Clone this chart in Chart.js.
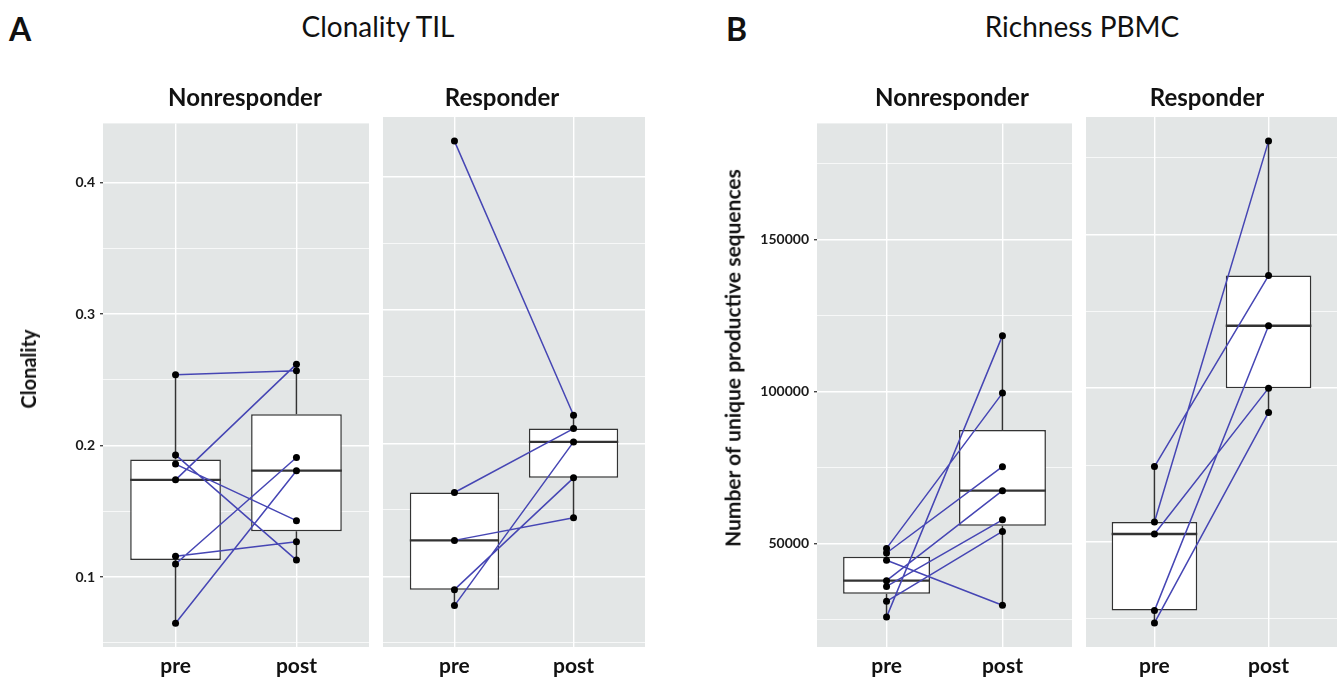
<!DOCTYPE html>
<html><head><meta charset="utf-8">
<script src="https://cdn.jsdelivr.net/npm/chart.js@4.4.1/dist/chart.umd.min.js"></script>
<style>
html,body{margin:0;padding:0;background:#fff;}
#wrap{position:relative;width:1342px;height:685px;overflow:hidden;font-family:Lato,"Open Sans",sans-serif;}
canvas{position:absolute;}
.t{position:absolute;white-space:nowrap;color:#111;line-height:1;}
.c{transform:translateX(-50%);}
.big{font-size:32px;font-weight:700;}
.main{font-size:28px;font-weight:400;}
.strip{font-size:24px;font-weight:700;}
.ytitle{font-weight:700;transform:translate(-50%,-50%) rotate(-90deg);}
</style></head><body>
<div id="wrap">
  <canvas id="aNon" width="373" height="575" style="left:0px;top:110px;"></canvas>
  <canvas id="aRes" width="270" height="575" style="left:379px;top:110px;"></canvas>
  <canvas id="bNon" width="386" height="575" style="left:690px;top:110px;"></canvas>
  <canvas id="bRes" width="259" height="575" style="left:1082px;top:110px;"></canvas>
  <div class="t big" style="left:9px;top:13px;">A</div>
  <div class="t main c" style="left:378px;top:12px;">Clonality TIL</div>
  <div class="t big" style="left:726px;top:13px;">B</div>
  <div class="t main c" style="left:1082px;top:12px;">Richness PBMC</div>
  <div class="t strip c" style="left:245px;top:85px;">Nonresponder</div>
  <div class="t strip c" style="left:502px;top:85px;">Responder</div>
  <div class="t strip c" style="left:952px;top:85px;">Nonresponder</div>
  <div class="t strip c" style="left:1207px;top:85px;">Responder</div>
  <div class="t ytitle" style="left:28px;top:369px;font-size:20px;">Clonality</div>
  <div class="t ytitle" style="left:732px;top:358px;font-size:21px;">Number of unique productive sequences</div>
</div>
<script>
// ---------- data ----------
const categories = ['pre', 'post'];

// Panel A: Clonality TIL (paired: pre[i] -> post[i])
const clonNonPre  = [0.254, 0.174, 0.193, 0.186, 0.116, 0.110, 0.065];
const clonNonPost = [0.257, 0.262, 0.113, 0.143, 0.127, 0.191, 0.181];
const clonResPre  = [0.427, 0.163, 0.127, 0.090, 0.078];
const clonResPost = [0.221, 0.211, 0.144, 0.174, 0.201];
const clonMajorTicks = [0.1, 0.2, 0.3, 0.4];
const clonTickLabels = ['0.1', '0.2', '0.3', '0.4'];
const clonMinorTicks = [0.05, 0.15, 0.25, 0.35];
const clonRange = [0.0469, 0.4451];

// Panel B: Richness PBMC (paired: pre[i] -> post[i])
const richNonPre  = [48300, 46800, 44400, 37700, 35800, 30900, 25700];
const richNonPost = [99400, 75200, 29600, 67300, 57700, 53900, 118300];
const richResPre  = [74500, 56500, 52600, 27700, 23700];
const richResPost = [136600, 180300, 100000, 120300, 92100];
const richMajorTicks = [50000, 100000, 150000];
const richTickLabels = ['50000', '100000', '150000'];
const richMinorTicks = [25000, 75000, 125000, 175000];
const richRange = [15870, 188130];

// ---------- styles ----------
const PANEL_BG = '#e3e6e6';
const BOX_W = 0.75;
const BOX_COLOR = '#333333';
const PAIR_COLOR = '#4646b4';
const FONT = 'Lato, "Open Sans", sans-serif';

function q7(s, p) {
  const h = (s.length - 1) * p, lo = Math.floor(h), hi = Math.ceil(h);
  return s[lo] + (s[hi] - s[lo]) * (h - lo);
}
function boxStats(arr) {
  const s = [...arr].sort((a, b) => a - b);
  const q1 = q7(s, 0.25), med = q7(s, 0.5), q3 = q7(s, 0.75), iqr = q3 - q1;
  const lo = Math.min(...s.filter(v => v >= q1 - 1.5 * iqr));
  const hi = Math.max(...s.filter(v => v <= q3 + 1.5 * iqr));
  return {q1, med, q3, lo, hi};
}

const bgPlugin = {
  id: 'panelBg',
  beforeDraw(chart) {
    const {ctx, chartArea: a} = chart;
    ctx.save();
    ctx.fillStyle = PANEL_BG;
    ctx.fillRect(a.left, a.top, a.right - a.left, a.bottom - a.top);
    ctx.restore();
  }
};

function makeFacet(id, pre, post, cfg) {
  const st = [boxStats(pre), boxStats(post)];
  const boxData = st.map((s, i) => ({x: i + 1, y: [s.q1, s.q3]}));
  const whisk = [];
  st.forEach((s, i) => {
    const x = i + 1;
    whisk.push({x, y: s.q3}, {x, y: s.hi}, {x, y: null}, {x, y: s.q1}, {x, y: s.lo}, {x, y: null});
  });
  const meds = [];
  st.forEach((s, i) => {
    const x = i + 1;
    meds.push({x: x - BOX_W / 2, y: s.med}, {x: x + BOX_W / 2, y: s.med}, {x: x + 0.5, y: null});
  });
  const pairs = [], pts = [];
  pre.forEach((v, i) => {
    pairs.push({x: 1, y: v}, {x: 2, y: post[i]}, {x: 1.5, y: null});
    pts.push({x: 1, y: v}, {x: 2, y: post[i]});
  });
  const major = cfg.major, minor = cfg.minor;
  const isMajor = v => major.some(m => Math.abs(m - v) < 1e-9);
  const labelOf = v => { const k = major.findIndex(m => Math.abs(m - v) < 1e-9); return k >= 0 ? cfg.labels[k] : ''; };

  new Chart(document.getElementById(id), {
    type: 'bar',
    data: {
      datasets: [
        {type: 'bar', data: boxData, backgroundColor: '#ffffff', borderColor: BOX_COLOR, borderWidth: 1.5,
         borderSkipped: false, barPercentage: BOX_W, categoryPercentage: 1, order: 10},
        {type: 'line', data: whisk, borderColor: BOX_COLOR, borderWidth: 1.5, pointRadius: 0, spanGaps: false, order: 8},
        {type: 'line', data: meds, borderColor: BOX_COLOR, borderWidth: 2.4, pointRadius: 0, spanGaps: false, order: 7, borderCapStyle: 'butt'},
        {type: 'line', data: pairs, borderColor: PAIR_COLOR, borderWidth: 1.5, pointRadius: 0, spanGaps: false, order: 3},
        {type: 'scatter', data: pts, backgroundColor: '#000', borderColor: '#000', pointRadius: 3.5, borderWidth: 0, order: 1}
      ]
    },
    options: {
      responsive: false, animation: false, devicePixelRatio: 1,
      layout: {padding: {top: 7, left: 0, right: 0, bottom: 0}},
      plugins: {legend: {display: false}, tooltip: {enabled: false}},
      scales: {
        x: {
          type: 'linear', min: 0.4, max: 2.6, offset: false,
          afterBuildTicks: s => { s.ticks = categories.map((c, i) => ({value: i + 1})); },
          afterFit: s => { s.height = 38; },
          ticks: {callback: v => categories[Math.round(v) - 1] || '', autoSkip: false, maxRotation: 0,
                  font: {family: FONT, size: 21, weight: 'bold'}, color: '#111', padding: 4},
          grid: {color: '#ffffff', lineWidth: 1.4, drawTicks: true, tickLength: 3, tickColor: 'rgba(0,0,0,0)', offset: false},
          border: {display: false}
        },
        y: {
          type: 'linear', min: cfg.range[0], max: cfg.range[1],
          afterBuildTicks: s => { s.ticks = [...major, ...minor].sort((a, b) => a - b).map(v => ({value: v})); },
          afterFit: s => { s.width = cfg.axisW; },
          ticks: {display: cfg.showY, callback: v => labelOf(v), autoSkip: false,
                  font: {family: FONT, size: 14, weight: 'bold'}, color: '#1a1a1a', padding: 5},
          grid: {color: '#ffffff',
                 lineWidth: c => (c.tick && isMajor(c.tick.value)) ? 1.4 : 0.7,
                 drawTicks: cfg.showY, tickLength: 3,
                 tickColor: c => (c.tick && isMajor(c.tick.value)) ? '#444' : 'rgba(0,0,0,0)'},
          border: {display: false},
          title: {display: false}
        }
      }
    },
    plugins: [bgPlugin]
  });
}

makeFacet('aNon', clonNonPre, clonNonPost, {major: clonMajorTicks, minor: clonMinorTicks, labels: clonTickLabels,
  range: clonRange, showY: true, axisW: 103});
makeFacet('aRes', clonResPre, clonResPost, {major: clonMajorTicks, minor: clonMinorTicks, labels: clonTickLabels,
  range: clonRange, showY: false, axisW: 0});
makeFacet('bNon', richNonPre, richNonPost, {major: richMajorTicks, minor: richMinorTicks, labels: richTickLabels,
  range: richRange, showY: true, axisW: 127});
makeFacet('bRes', richResPre, richResPost, {major: richMajorTicks, minor: richMinorTicks, labels: richTickLabels,
  range: richRange, showY: false, axisW: 0});
</script>
</body></html>
